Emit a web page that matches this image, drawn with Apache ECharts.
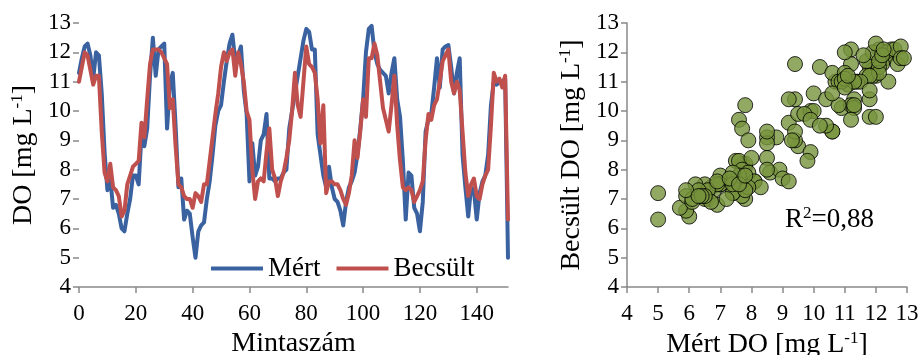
<!DOCTYPE html>
<html>
<head>
<meta charset="utf-8">
<script src="https://cdn.jsdelivr.net/npm/echarts@6/dist/echarts.min.js"></script>
<style>
  html, body { margin: 0; padding: 0; background: #fff; }
  #main { width: 923px; height: 355px; }
</style>
</head>
<body>
<div id="main"></div>
<script>
// mért és becsült DO értékek, mintánként
var mert = [
  11.3, 11.8, 12.2, 12.3, 11.9, 11.1, 12.0, 11.9, 10.6, 8.6,
  7.3, 7.7, 6.7, 6.8, 6.5, 6.0, 5.9, 6.5, 7.0, 7.8,
  7.8, 7.5, 9.2, 8.8, 9.4, 11.2, 12.5, 11.2, 12.1, 12.2,
  12.3, 9.4, 10.9, 11.3, 9.5, 7.4, 7.7, 6.3, 6.6, 6.5,
  5.7, 5.0, 5.9, 6.1, 6.2, 7.0, 7.6, 8.5, 9.5, 10.0,
  10.2, 11.0, 11.7, 12.3, 12.6, 11.7, 11.9, 12.2, 10.7, 9.9,
  7.6, 8.9, 7.8, 8.1, 9.0, 9.2, 9.9, 7.7, 7.7, 7.6,
  7.7, 7.7, 7.9, 8.0, 9.4, 10.0, 10.6, 11.2, 11.8, 12.4,
  12.8, 12.7, 12.1, 12.1, 9.2, 8.5, 7.8, 7.4, 8.1, 7.4,
  7.0, 6.9, 6.6, 6.1, 6.9, 7.4, 7.6, 7.9, 8.5, 9.4,
  10.4, 12.0, 12.8, 12.9, 12.0, 11.6, 11.4, 11.3, 11.2, 10.6,
  11.3, 11.8, 10.4, 9.8, 8.3, 6.3, 7.9, 7.8, 6.7, 6.5,
  5.9, 6.9, 9.3, 9.7, 9.9, 10.8, 11.8, 10.8, 12.1, 12.2,
  12.25, 11.5, 10.6, 11.3, 11.8, 8.5, 7.4, 6.4, 7.4, 7.3,
  6.3, 7.2, 7.6, 7.8, 8.5, 10.2, 11.0, 10.9, 11.0, 11.0,
  11.1, 5.0
]
var becsult = [
  11.0, 11.5, 12.0, 11.9, 11.4, 10.9, 11.2, 11.2, 9.3, 7.9,
  7.6, 8.2, 7.4, 7.3, 7.1, 6.4, 6.6, 7.5, 7.8, 8.1,
  8.2, 8.3, 9.6, 9.1, 10.4, 11.6, 12.1, 12.1, 12.1, 12.0,
  11.8, 11.6, 10.1, 10.4, 8.8, 7.5, 7.4, 7.1, 7.0, 7.0,
  6.7, 7.2, 7.1, 6.9, 7.5, 7.5, 8.3, 9.1, 9.9, 10.6,
  11.5, 12.0, 11.7, 12.0, 12.1, 11.2, 12.0, 11.6, 11.0, 10.0,
  9.7, 8.0, 7.0, 7.6, 7.7, 7.6, 8.6, 9.4, 8.0, 7.7,
  7.1, 7.6, 7.9, 8.4, 9.0, 10.0, 11.3, 10.2, 9.8, 11.0,
  12.2, 11.6, 11.5, 11.3, 10.4, 8.9, 10.2, 7.2, 7.6, 7.6,
  7.5, 7.5, 7.3, 7.0, 6.8, 7.2, 7.8, 9.0, 8.4, 9.3,
  10.4, 9.8, 11.8, 11.8, 12.3, 11.9, 11.0, 10.1, 9.7, 9.3,
  10.2, 11.2, 9.5, 8.3, 7.4, 7.3, 7.4, 7.3, 6.9, 7.1,
  7.3, 7.6, 9.0, 9.9, 9.7, 10.2, 10.4, 11.0, 11.7, 11.9,
  12.1, 11.0, 10.6, 11.0, 10.7, 9.3, 7.9, 7.1, 7.5, 7.7,
  7.1, 7.0, 7.5, 7.8, 8.0, 9.5, 11.3, 11.0, 11.1, 10.8,
  11.2, 6.3
]
var mintak = mert.map(function (v, i) { return i })
var r2Szoveg = '0,88'

var pontok = mert.map(function (v, i) { return [v, becsult[i]] })

var betu = 'Liberation Serif'
var tengelySzin = '#898989'

// a tengelyfeliratok betűtípusát rich stílussal adjuk meg
var cimkeRich = { t: { fontFamily: betu, fontSize: 23, color: '#000' } }
function cimke(v) { return '{t|' + v + '}' }

function tengely() {
    return {
        axisLine: { lineStyle: { color: tengelySzin, width: 1.5 } },
        axisTick: { show: true, length: 6, lineStyle: { color: tengelySzin, width: 1.5 } },
        axisLabel: { color: '#000', fontFamily: betu, fontSize: 23, formatter: cimke, rich: cimkeRich },
        splitLine: { show: false }
    }
}

var nevRich = {
    a: { fontFamily: betu, fontSize: 28, color: '#000', lineHeight: 30 },
    s: { fontFamily: betu, fontSize: 17, color: '#000', verticalAlign: 'top', lineHeight: 30 }
}

var myChart = echarts.init(document.getElementById('main'))
myChart.setOption({
    animation: false,
    backgroundColor: '#fff',
    textStyle: { fontFamily: betu },
    grid: [
        { left: 79, top: 23, width: 429, height: 264, outerBoundsMode: 'none', containLabel: false },
        { left: 627, top: 23, width: 280, height: 264, outerBoundsMode: 'none', containLabel: false }
    ],
    legend: {
        data: ['Mért', 'Becsült'],
        left: 206,
        top: 250,
        icon: 'rect',
        itemWidth: 52,
        itemHeight: 4,
        itemGap: 16,
        textStyle: { fontFamily: betu, fontSize: 27, color: '#000' }
    },
    title: {
        text: '{a|R}{s|2}{a|=' + r2Szoveg + '}',
        left: 780,
        top: 200,
        textStyle: {
            fontWeight: 'normal',
            rich: {
                a: { fontFamily: betu, fontSize: 27, fontWeight: 'normal', color: '#000', lineHeight: 30 },
                s: { fontFamily: betu, fontSize: 17, fontWeight: 'normal', color: '#000', verticalAlign: 'top', lineHeight: 30 }
            }
        }
    },
    xAxis: [
        Object.assign(tengely(), {
            type: 'category',
            gridIndex: 0,
            data: mintak,
            boundaryGap: false,
            name: 'Mintaszám',
            nameLocation: 'middle',
            nameGap: 37,
            nameTextStyle: { fontFamily: betu, fontSize: 28, color: '#000' },
            axisTick: { show: true, length: 6, interval: function (i) { return i % 20 === 0 }, lineStyle: { color: tengelySzin, width: 1.5 } },
            axisLabel: {
                color: '#000', fontFamily: betu, fontSize: 23, formatter: cimke, rich: cimkeRich,
                margin: 15,
                interval: function (i) { return i % 20 === 0 }
            }
        }),
        Object.assign(tengely(), {
            type: 'value',
            gridIndex: 1,
            min: 4,
            max: 13,
            interval: 1,
            name: '{a|Mért DO [mg L}{s|-1}{a|]}',
            nameLocation: 'middle',
            nameGap: 41,
            nameTextStyle: { rich: nevRich },
            axisLabel: { color: '#000', fontFamily: betu, fontSize: 23, formatter: cimke, rich: cimkeRich, margin: 15 }
        })
    ],
    yAxis: [
        Object.assign(tengely(), {
            type: 'value',
            gridIndex: 0,
            min: 4,
            max: 13,
            interval: 1,
            name: '{a|DO [mg L}{s|-1}{a|]}',
            nameLocation: 'middle',
            nameGap: 40,
            nameTextStyle: { rich: nevRich }
        }),
        Object.assign(tengely(), {
            type: 'value',
            gridIndex: 1,
            min: 4,
            max: 13,
            interval: 1,
            name: '{a|Becsült DO [mg L}{s|-1}{a|]}',
            nameLocation: 'middle',
            nameGap: 40,
            nameTextStyle: { rich: nevRich }
        })
    ],
    series: [
        {
            name: 'Mért',
            type: 'line',
            xAxisIndex: 0,
            yAxisIndex: 0,
            data: mert,
            showSymbol: false,
            lineStyle: { color: '#3A62A0', width: 4, join: 'round', cap: 'round' },
            itemStyle: { color: '#3A62A0' }
        },
        {
            name: 'Becsült',
            type: 'line',
            xAxisIndex: 0,
            yAxisIndex: 0,
            data: becsult,
            showSymbol: false,
            lineStyle: { color: '#C0504D', width: 4, join: 'round', cap: 'round' },
            itemStyle: { color: '#C0504D' }
        },
        {
            name: 'pontok',
            type: 'scatter',
            xAxisIndex: 1,
            yAxisIndex: 1,
            data: pontok,
            symbolSize: 15,
            itemStyle: { color: '#77933C', borderColor: '#000', borderWidth: 1 }
        }
    ]
})
</script>
</body>
</html>
